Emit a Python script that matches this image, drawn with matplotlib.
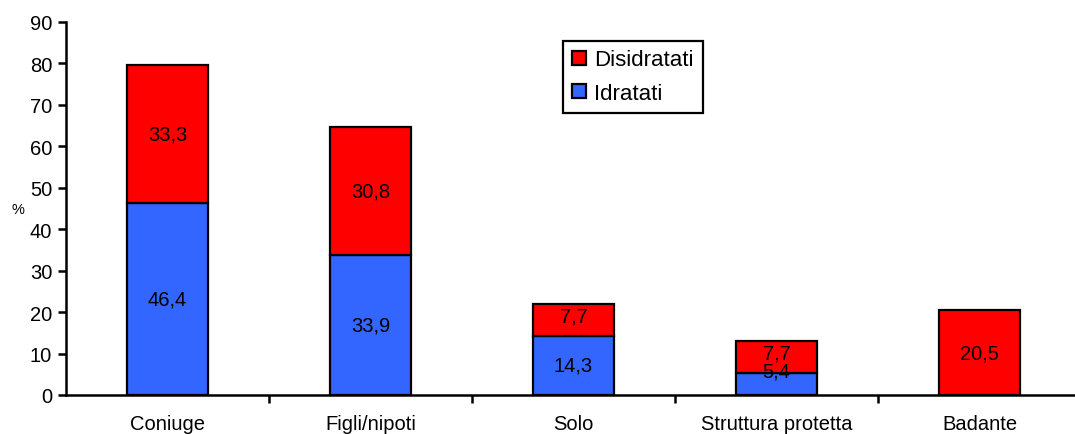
import numpy as np
import matplotlib.pyplot as plt

categories = ['Coniuge', 'Figli/nipoti', 'Solo', 'Struttura protetta', 'Badante']
idratati = [46.4, 33.9, 14.3, 5.4, 0.0]
disidratati = [33.3, 30.8, 7.7, 7.7, 20.5]

plt.rcParams['font.family'] = ['Liberation Sans', 'DejaVu Sans']

fig = plt.figure(figsize=(10.75, 4.35), dpi=100)
ax = fig.add_axes([66 / 1075, 1 - 396 / 435, 1015 / 1075, 373 / 435])

x = np.arange(len(categories))
w = 0.40
red = '#FF0000'
blue = '#3366FF'

b1 = ax.bar(x, idratati, w, color=blue, edgecolor='black', linewidth=1.6, label='Idratati', zorder=2)
b2 = ax.bar(x, disidratati, w, bottom=idratati, color=red, edgecolor='black', linewidth=1.6,
            label='Disidratati', zorder=2)

# value labels in the middle of each segment
for i in range(len(categories)):
    if idratati[i] > 0:
        y = max(idratati[i] / 2, 5.8)
        ax.text(x[i], y, f'{idratati[i]:.1f}'.replace('.', ','), ha='center', va='center', fontsize=14.5, zorder=3)
    if disidratati[i] > 0:
        y = idratati[i] + disidratati[i] / 2
        if disidratati[i] < 10:
            y += 1.0
        ax.text(x[i], y, f'{disidratati[i]:.1f}'.replace('.', ','), ha='center', va='center', fontsize=14.5, zorder=3)

ax.set_xlim(-0.5, len(categories) - 0.5)
ax.set_ylim(0, 90)
ax.set_yticks(range(0, 91, 10))
ax.set_xticks(x)
ax.set_xticklabels(categories, fontsize=14.5)
ax.set_xticks(np.arange(0.5, len(categories) - 0.5, 1), minor=True)
ax.tick_params(axis='x', which='major', length=0, pad=14)
ax.tick_params(axis='x', which='minor', length=6, width=1.8, direction='out')
ax.tick_params(axis='y', length=6, width=1.8, direction='out', labelsize=14.5, pad=4)

for s in ['top', 'right']:
    ax.spines[s].set_visible(False)
for s in ['left', 'bottom']:
    ax.spines[s].set_linewidth(1.8)

fig.text(18 / 1075, 1 - 210 / 435, '%', fontsize=10.5, ha='center', va='center')

leg = ax.legend(handles=[b2, b1], loc='upper left', bbox_to_anchor=(0.479, 0.98), fontsize=16,
                fancybox=False, framealpha=1, edgecolor='black', handlelength=0.6, handleheight=0.6,
                handletextpad=0.4, borderpad=0.4, labelspacing=0.55)
leg.get_frame().set_linewidth(1.6)

fig.savefig('out.png', dpi=100)
